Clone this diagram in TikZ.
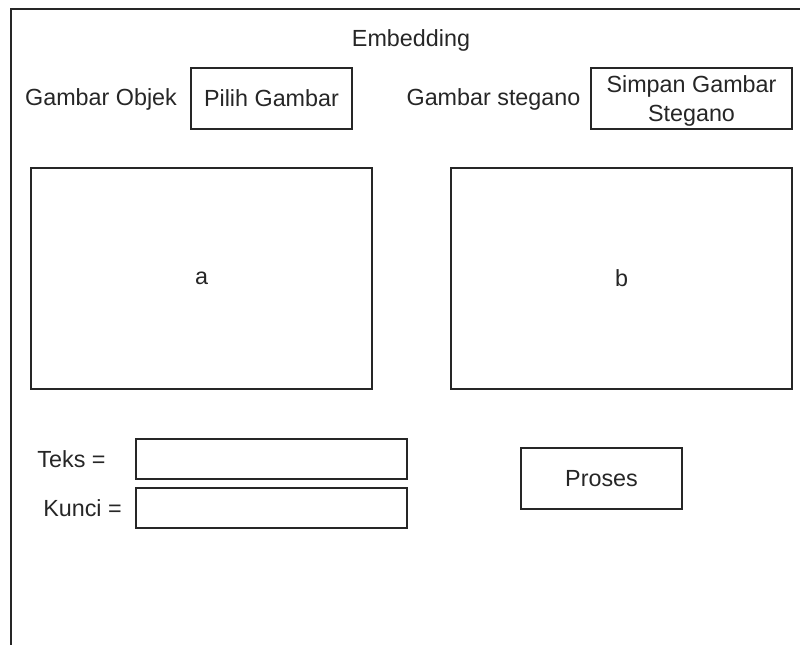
\documentclass[tikz,border=0pt]{standalone}
\usepackage{fontspec}
\setmainfont{Liberation Sans}
\begin{document}
\begin{tikzpicture}[x=0.75pt,y=-0.75pt,
  ink/.style={draw=black!85,line width=1.1pt},
  lbl/.style={text=black!85,font=\fontsize{17.5}{21}\selectfont,inner sep=0pt},
  box/.style={ink,lbl,rectangle,inner sep=0pt}]
\useasboundingbox (0,0) rectangle (800,645);
% window frame (open to the right and bottom)
\coordinate (fl) at (11,645);
\coordinate (tl) at (11,9);
\coordinate (tr) at (800,9);
\draw[ink] (fl) -- (tl) -- (tr);
% title
\node[lbl] (title) at (411,40) {Embedding};
% source image row
\node[lbl] (objlbl) at (101,99) {Gambar Objek};
\node[box,minimum width={161*0.75pt},minimum height={61*0.75pt}] (pilih) at (271.5,98.5) {Pilih Gambar};
\node[lbl] (steglbl) at (493.5,99) {Gambar stegano};
\node[box,align=center,text depth=0pt,font=\fontsize{17.5}{21.5}\selectfont,
      minimum width={201*0.75pt},minimum height={61*0.75pt}] (simpan) at (691.5,98.5) {Simpan Gambar\\Stegano};
% image panels
\node[box,minimum width={341*0.75pt},minimum height={221*0.75pt}] (imga) at (201.5,278.5) {a};
\node[box,minimum width={341*0.75pt},minimum height={221*0.75pt}] (imgb) at (621.5,278.5) {b};
% input fields
\node[lbl] (tekslbl) at (71.5,459) {Teks =};
\node[box,minimum width={271*0.75pt},minimum height={40*0.75pt}] (teks) at (271.5,459) {};
\node[lbl] (kuncilbl) at (82.5,508) {Kunci =};
\node[box,minimum width={271*0.75pt},minimum height={40*0.75pt}] (kunci) at (271.5,508) {};
% action button
\node[box,minimum width={161*0.75pt},minimum height={61*0.75pt}] (proses) at (601.5,478.5) {Proses};
\end{tikzpicture}
\end{document}
